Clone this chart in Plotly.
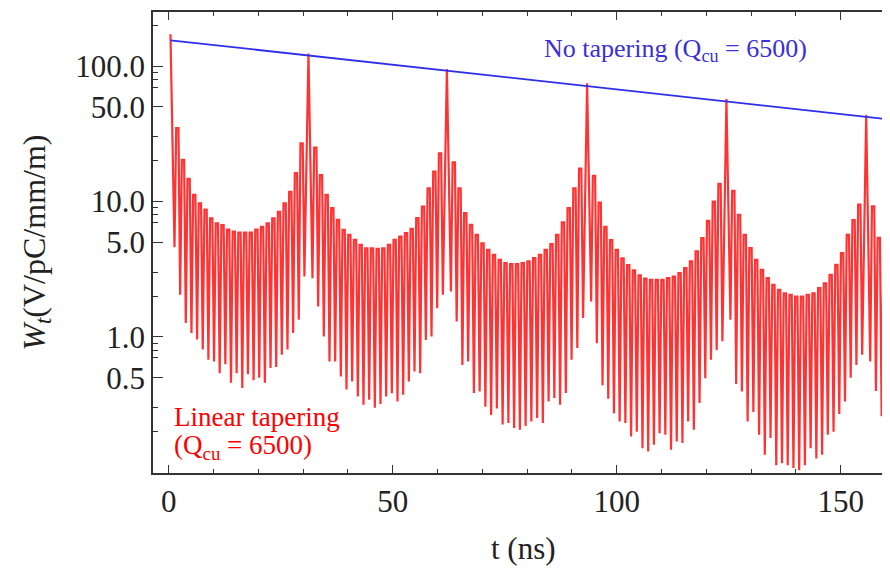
import plotly.graph_objects as go

# ---------------- data ----------------
# main wake peaks (t in ns, W in V/pC/mm/m)
peak_t = [0.4, 31.2, 62.1, 93.4, 124.5, 155.7]
peak_w = [172, 124, 95, 74.5, 57, 43.5]

# oscillation maxima (23) and minima (24) between consecutive peaks
p1_max = [34.8, 20.3, 14.7, 11.2, 9.7, 8.7, 7.5, 6.9, 6.7, 6.2, 6.0, 5.9,
          5.9, 5.9, 6.2, 6.5, 6.9, 7.5, 8.4, 9.7, 11.8, 16.2, 26.9]
p1_min = [4.6, 2.05, 1.27, 1.07, 0.96, 0.81, 0.68, 0.66, 0.54, 0.63, 0.46, 0.54,
          0.42, 0.53, 0.48, 0.50, 0.46, 0.59, 0.60, 0.74, 0.81, 1.07, 1.34, 2.8]
p2_max = [25, 15.7, 11.2, 8.93, 7.33, 6.18, 5.68, 5.21, 4.79, 4.52, 4.52, 4.47,
          4.52, 4.79, 5.21, 5.52, 5.84, 6.29, 7.54, 9.19, 12.5, 16.6, 22.7]
p2_min = [2.72, 1.68, 1.01, 0.66, 0.66, 0.51, 0.41, 0.47, 0.364, 0.316, 0.344, 0.30,
          0.32, 0.364, 0.385, 0.334, 0.374, 0.47, 0.556, 0.54, 0.95, 1.01, 1.63, 2.05]
p3_max = [19.5, 12.5, 8.2, 6.73, 5.68, 4.92, 4.40, 4.04, 3.71, 3.51, 3.45, 3.45,
          3.51, 3.61, 3.82, 4.04, 4.40, 4.84, 5.68, 7.03, 8.93, 12.5, 17.5]
p3_min = [2.17, 1.30, 0.62, 0.66, 0.386, 0.396, 0.306, 0.266, 0.297, 0.226, 0.232, 0.213,
          0.207, 0.22, 0.238, 0.252, 0.232, 0.334, 0.354, 0.316, 0.386, 0.68, 0.83, 1.38]
p4_max = [15.5, 9.8, 6.5, 5.2, 4.4, 3.8, 3.4, 3.1, 2.85, 2.7, 2.64, 2.64,
          2.64, 2.72, 2.79, 2.96, 3.22, 3.61, 4.28, 5.36, 7.2, 10.0, 13.5]
p4_min = [1.83, 0.90, 0.44, 0.35, 0.273, 0.238, 0.232, 0.184, 0.20, 0.151, 0.143, 0.16,
          0.195, 0.19, 0.147, 0.169, 0.165, 0.238, 0.207, 0.325, 0.497, 0.68, 0.8, 0.93]
p5_max = [12.0, 7.97, 5.68, 4.53, 3.71, 3.13, 2.72, 2.43, 2.23, 2.10, 2.05, 1.99,
          1.99, 2.05, 2.10, 2.30, 2.49, 2.88, 3.41, 4.16, 5.68, 7.3, 9.5]
p5_min = [1.34, 0.45, 0.396, 0.238, 0.28, 0.19, 0.135, 0.18, 0.113, 0.117, 0.113, 0.108,
          0.104, 0.113, 0.151, 0.127, 0.135, 0.19, 0.2, 0.27, 0.334, 0.5, 0.62, 0.74]
tail_max = [9.2, 5.4, 3.8, 3.3, 3.0]
tail_min = [0.66, 0.40, 0.26, 0.26, 0.25]

peak_half_width = 0.9   # ns from a main peak to its neighbouring dip
osc_step = 1.274        # ns between successive dips in the tail

# no-tapering envelope (straight on log scale)
blue_t = [0.4, 160.4]
blue_w = [155, 40.5]

x_tickvals = [0, 50, 100, 150]
y_tickvals = [0.5, 1, 5, 10, 50, 100]
y_ticktext = ["0.5", "1.0", "5.0", "10.0", "50.0", "100.0"]
y_minor = [0.2, 0.3, 0.7, 0.8, 0.9, 2, 3, 7, 8, 9, 20, 30, 70, 80, 90, 200]

# ---------------- build red trace ----------------
# each oscillation: a narrow dip, then a broad (flat-topped) maximum
maxs = [p1_max, p2_max, p3_max, p4_max, p5_max]
mins = [p1_min, p2_min, p3_min, p4_min, p5_min]
red_t, red_w = [], []


def add_osc(dips_t, dips_w, tops_w, step):
    for i, mn in enumerate(dips_w):
        red_t.append(dips_t[i]); red_w.append(mn)
        if i < len(tops_w):
            red_t.append(dips_t[i] + 0.3 * step); red_w.append(tops_w[i])
            red_t.append(dips_t[i] + 0.7 * step); red_w.append(tops_w[i])


for k in range(5):
    t0, t1 = peak_t[k], peak_t[k + 1]
    n = len(mins[k])
    step = (t1 - t0 - 2 * peak_half_width) / (n - 1)
    dips = [t0 + peak_half_width + i * step for i in range(n)]
    red_t.append(t0); red_w.append(peak_w[k])
    add_osc(dips, mins[k], maxs[k], step)
red_t.append(peak_t[5]); red_w.append(peak_w[5])
dips = [peak_t[5] + peak_half_width + i * osc_step for i in range(len(tail_min))]
add_osc(dips, tail_min, tail_max, osc_step)

FONT = "Liberation Serif"
fig = go.Figure()
fig.add_trace(go.Scatter(x=red_t, y=red_w, mode="lines",
                         line=dict(color="rgba(255,0,0,0.8)", width=2.2),
                         showlegend=False, hoverinfo="skip"))
fig.add_trace(go.Scatter(x=blue_t, y=blue_w, mode="lines",
                         line=dict(color="rgb(45,45,235)", width=1.8),
                         showlegend=False, hoverinfo="skip"))

axcol = "#333333"
fig.update_xaxes(range=[-3.5, 162.8], showgrid=False, zeroline=False,
                 showline=True, linecolor=axcol, linewidth=1.6, mirror="ticks",
                 ticks="inside", ticklen=8, tickwidth=1.3, tickcolor=axcol,
                 tickvals=x_tickvals,
                 tickfont=dict(family=FONT, size=31, color="#222"),
                 minor=dict(dtick=10, ticks="inside", ticklen=4, tickcolor=axcol, tickwidth=1.1))
fig.update_yaxes(type="log", range=[-1.004, 2.399], showgrid=False, zeroline=False,
                 showline=True, linecolor=axcol, linewidth=1.6, mirror=False,
                 ticks="inside", ticklen=10, tickwidth=1.3, tickcolor=axcol,
                 tickvals=y_tickvals, ticktext=y_ticktext,
                 tickfont=dict(family=FONT, size=31, color="#222"),
                 minor=dict(tickvals=y_minor, ticks="inside", ticklen=5, tickcolor=axcol, tickwidth=1.1))

fig.add_annotation(xref="paper", yref="paper", x=-0.157, y=0.5, textangle=-90,
                   text="<i>W</i><sub><i>t</i></sub>(V/pC/mm/m)", showarrow=False,
                   font=dict(family=FONT, size=32, color="#222"),
                   xanchor="center", yanchor="middle")
fig.add_annotation(xref="paper", yref="paper", x=0.497, y=-0.163,
                   text="t (ns)", showarrow=False,
                   font=dict(family=FONT, size=31, color="#222"),
                   xanchor="center", yanchor="middle")
fig.add_annotation(xref="x", yref="y", x=113.1, y=2.12,
                   text="No tapering (Q<sub>cu</sub> = 6500)", showarrow=False,
                   font=dict(family=FONT, size=26, color="#3b2fd6"),
                   xanchor="center", yanchor="middle")
fig.add_annotation(xref="x", yref="y", x=0.7, y=-0.59,
                   text="Linear tapering", showarrow=False,
                   font=dict(family=FONT, size=27, color="red"),
                   xanchor="left", yanchor="middle")
fig.add_annotation(xref="x", yref="y", x=0.7, y=-0.81,
                   text="(Q<sub>cu</sub> = 6500)", showarrow=False,
                   font=dict(family=FONT, size=27, color="red"),
                   xanchor="left", yanchor="middle")

fig.update_layout(width=890, height=573, margin=dict(l=145, r=0, t=4, b=108),
                  paper_bgcolor="white", plot_bgcolor="white")
fig.write_html("out.html")
